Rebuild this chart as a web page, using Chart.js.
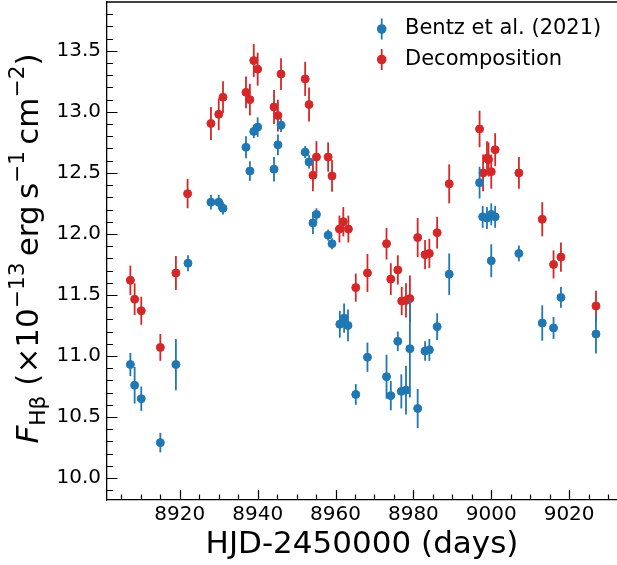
<!DOCTYPE html>
<html>
<head>
<meta charset="utf-8">
<script src="https://cdn.jsdelivr.net/npm/chart.js@4.4.0/dist/chart.umd.min.js"></script>
<style>
  html, body { margin: 0; padding: 0; background: #fff; overflow: hidden; }
  canvas { display: block; }
</style>
</head>
<body>
<canvas id="chart" width="617" height="565"></canvas>
<script>
// Bentz et al. (2021) light curve
const bentzX = [8907.3, 8908.4, 8910.1, 8915.0, 8919.0, 8922.1, 8928.0, 8930.0, 8931.1, 8937.0,
  8938.0, 8939.0, 8940.0, 8944.2, 8945.2, 8946.0, 8952.2, 8953.2, 8954.2, 8955.1,
  8958.1, 8959.1, 8961.1, 8962.2, 8963.2, 8965.2, 8968.2, 8973.1, 8974.2, 8976.0,
  8976.9, 8978.1, 8979.1, 8981.1, 8983.0, 8984.1, 8986.1, 8989.2, 8997.0, 8997.8,
  8998.9, 9000.0, 9001.0, 9000.0, 9007.1, 9013.1, 9016.0, 9017.9, 9026.9];
const bentzY = [10.93, 10.76, 10.65, 10.29, 10.93, 11.76, 12.26, 12.26, 12.21, 12.71,
  12.515, 12.84, 12.875, 12.53, 12.73, 12.89, 12.67, 12.59, 12.09, 12.16,
  11.99, 11.92, 11.26, 11.31, 11.25, 10.685, 10.99, 10.83, 10.675, 11.12,
  10.71, 10.72, 11.06, 10.57, 11.04, 11.05, 11.24, 11.67, 12.42, 12.14,
  12.13, 12.16, 12.14, 11.78, 11.84, 11.27, 11.23, 11.48, 11.18];
const bentzErr = [0.095, 0.15, 0.10, 0.08, 0.21, 0.065, 0.06, 0.06, 0.05, 0.09,
  0.08, 0.055, 0.08, 0.10, 0.085, 0.055, 0.05, 0.055, 0.09, 0.05,
  0.045, 0.045, 0.11, 0.12, 0.13, 0.085, 0.12, 0.18, 0.12, 0.08,
  0.14, 0.2, 0.4, 0.16, 0.08, 0.09, 0.11, 0.17, 0.13, 0.09,
  0.09, 0.09, 0.09, 0.135, 0.065, 0.145, 0.09, 0.085, 0.16];

// decomposition light curve
const decompX = [8907.3, 8908.4, 8910.1, 8915.0, 8919.0, 8922.0, 8928.0, 8930.0, 8931.1, 8937.0,
  8938.0, 8939.0, 8940.0, 8944.2, 8945.2, 8946.0, 8952.2, 8953.2, 8954.2, 8955.1,
  8958.1, 8959.1, 8961.0, 8962.0, 8963.3, 8965.2, 8968.2, 8973.1, 8974.2, 8976.0,
  8977.0, 8978.1, 8979.1, 8981.1, 8983.0, 8984.1, 8986.1, 8989.2, 8997.0, 8997.9,
  8998.9, 8999.3, 9000.0, 9001.0, 9007.1, 9013.1, 9016.0, 9017.9, 9026.9];
const decompY = [11.62, 11.465, 11.37, 11.07, 11.68, 12.33, 12.905, 12.98, 13.12, 13.16,
  13.10, 13.42, 13.35, 13.04, 12.97, 13.31, 13.27, 13.06, 12.48, 12.63,
  12.63, 12.475, 12.04, 12.10, 12.04, 11.56, 11.68, 11.92, 11.63, 11.705,
  11.45, 11.455, 11.47, 11.97, 11.83, 11.84, 12.01, 12.41, 12.86, 12.50,
  12.62, 12.61, 12.51, 12.69, 12.50, 12.12, 11.75, 11.81, 11.41];
const decompErr = [0.12, 0.13, 0.115, 0.11, 0.14, 0.12, 0.135, 0.13, 0.13, 0.13,
  0.13, 0.135, 0.135, 0.14, 0.13, 0.13, 0.14, 0.14, 0.13, 0.13,
  0.12, 0.13, 0.11, 0.12, 0.11, 0.115, 0.155, 0.13, 0.13, 0.12,
  0.115, 0.14, 0.19, 0.16, 0.12, 0.12, 0.13, 0.16, 0.15, 0.15,
  0.14, 0.14, 0.14, 0.135, 0.13, 0.14, 0.115, 0.12, 0.125];

const xTicks = [8920, 8940, 8960, 8980, 9000, 9020];
const yTicks = [10.0, 10.5, 11.0, 11.5, 12.0, 12.5, 13.0, 13.5];

const BLUE = '#1f77b4';
const RED = '#d62728';
const FONT = 'DejaVu Sans';

function points(xs, ys, errs) {
  return xs.map((x, i) => ({ x: x, y: ys[i], err: errs[i] }));
}

// vertical error bars, drawn under each dataset's markers
const errorBars = {
  id: 'errorBars',
  beforeDatasetDraw(chart, args) {
    const ds = chart.data.datasets[args.index];
    const { ctx, scales: { x, y } } = chart;
    ctx.save();
    ctx.strokeStyle = ds.borderColor;
    ctx.lineWidth = 1.8;
    ds.data.forEach(p => {
      const px = x.getPixelForValue(p.x);
      ctx.beginPath();
      ctx.moveTo(px, y.getPixelForValue(p.y - p.err));
      ctx.lineTo(px, y.getPixelForValue(p.y + p.err));
      ctx.stroke();
    });
    ctx.restore();
  }
};

// matplotlib style inward ticks and top spine
const inTicks = {
  id: 'inTicks',
  afterDraw(chart) {
    const { ctx, chartArea: a, scales: { x, y } } = chart;
    ctx.save();
    ctx.strokeStyle = '#000';
    ctx.lineWidth = 1.2;
    ctx.beginPath();
    for (let v = 8905; v <= 9030; v += 5) {
      const px = Math.round(x.getPixelForValue(v)) + 0.5;
      const len = xTicks.includes(v) ? 10 : 5.5;
      ctx.moveTo(px, a.bottom);
      ctx.lineTo(px, a.bottom - len);
    }
    for (let i = 99; i <= 138; i++) {
      const py = Math.round(y.getPixelForValue(i / 10)) + 0.5;
      const len = i % 5 === 0 ? 10.5 : 6;
      ctx.moveTo(a.left, py);
      ctx.lineTo(a.left + len, py);
    }
    ctx.stroke();
    ctx.lineWidth = 1.3;
    ctx.beginPath();
    ctx.moveTo(a.left, a.top);
    ctx.lineTo(a.right, a.top);
    ctx.stroke();
    ctx.restore();
  }
};

// y axis label with sub/superscripts
const yLabelRuns = [
  { t: 'F', s: 1, dy: 0, it: true },
  { t: 'Hβ', s: 0.7, dy: 0.22 },
  { t: ' (', s: 1, dy: 0 },
  { t: '×10', s: 1, dy: 0 },
  { t: '−13', s: 0.7, dy: -0.45 },
  { t: '\u2009erg', s: 1, dy: 0 },
  { t: '\u2009s', s: 1, dy: 0 },
  { t: '−1', s: 0.7, dy: -0.45 },
  { t: '\u2009cm', s: 1, dy: 0 },
  { t: '−2', s: 0.7, dy: -0.45 },
  { t: ')', s: 1, dy: 0 }
];

const yLabel = {
  id: 'yLabel',
  afterDraw(chart) {
    const ctx = chart.ctx;
    const size = 31;
    const fontOf = r => (r.it ? 'italic ' : '') + (size * r.s) + 'px "' + FONT + '"';
    let total = 0;
    yLabelRuns.forEach(r => { ctx.font = fontOf(r); total += ctx.measureText(r.t).width; });
    ctx.save();
    ctx.translate(38, 248.5 + total / 2);
    ctx.rotate(-Math.PI / 2);
    ctx.fillStyle = '#000';
    ctx.textBaseline = 'alphabetic';
    let pos = 0;
    yLabelRuns.forEach(r => {
      ctx.font = fontOf(r);
      ctx.fillText(r.t, pos, r.dy * size);
      pos += ctx.measureText(r.t).width;
    });
    ctx.restore();
  }
};

// legend with errorbar symbols inside the axes
const legendBox = {
  id: 'legendBox',
  afterDraw(chart) {
    const ctx = chart.ctx;
    ctx.save();
    chart.data.datasets.forEach((ds, i) => {
      const mx = 381.7, my = 29 + 30.5 * i;
      ctx.strokeStyle = ds.borderColor;
      ctx.fillStyle = ds.borderColor;
      ctx.lineWidth = 1.8;
      ctx.beginPath();
      ctx.moveTo(mx, my - 10.5);
      ctx.lineTo(mx, my + 10.5);
      ctx.stroke();
      ctx.beginPath();
      ctx.arc(mx, my, 4.8, 0, Math.PI * 2);
      ctx.fill();
      ctx.fillStyle = '#000';
      ctx.font = '21px "' + FONT + '"';
      ctx.textBaseline = 'middle';
      ctx.fillText(ds.label, 405, my);
    });
    ctx.restore();
  }
};

const ctx = document.getElementById('chart').getContext('2d');
const chart = new Chart(ctx, {
  type: 'scatter',
  data: {
    datasets: [
      {
        label: 'Bentz et al. (2021)',
        data: points(bentzX, bentzY, bentzErr),
        backgroundColor: BLUE,
        borderColor: BLUE,
        pointRadius: 4,
        pointBorderWidth: 1,
        pointHoverRadius: 4
      },
      {
        label: 'Decomposition',
        data: points(decompX, decompY, decompErr),
        backgroundColor: RED,
        borderColor: RED,
        pointRadius: 4,
        pointBorderWidth: 1,
        pointHoverRadius: 4
      }
    ]
  },
  options: {
    responsive: false,
    animation: false,
    devicePixelRatio: 1,
    events: [],
    layout: { autoPadding: false, padding: { top: 2, left: 0, right: 0, bottom: 0 } },
    plugins: { legend: { display: false }, tooltip: { enabled: false } },
    scales: {
      x: {
        type: 'linear',
        position: 'bottom',
        min: 8901.3,
        max: 9032.3,
        grid: { display: false, drawTicks: false },
        border: { display: true, color: '#000', width: 1.3 },
        ticks: {
          color: '#000',
          font: { family: FONT, size: 20 },
          padding: 3,
          maxRotation: 0,
          autoSkip: false,
          callback: v => String(v)
        },
        afterBuildTicks: s => { s.ticks = xTicks.map(v => ({ value: v })); },
        afterFit: s => { s.height = 65; s.paddingLeft = 0; s.paddingRight = 0; },
        title: {
          display: true,
          text: 'HJD-2450000 (days)',
          color: '#000',
          font: { family: FONT, size: 31 },
          padding: { top: 0, bottom: 1 }
        }
      },
      y: {
        type: 'linear',
        position: 'left',
        min: 9.82,
        max: 13.9,
        grid: { display: false, drawTicks: false },
        border: { display: true, color: '#000', width: 1.3 },
        ticks: {
          color: '#000',
          font: { family: FONT, size: 20 },
          padding: 6,
          autoSkip: false,
          callback: v => v.toFixed(1)
        },
        afterBuildTicks: s => { s.ticks = yTicks.map(v => ({ value: v })); },
        afterFit: s => { s.width = 107; s.paddingTop = 0; s.paddingBottom = 0; }
      }
    }
  },
  plugins: [errorBars, inTicks, yLabel, legendBox]
});
</script>
</body>
</html>
